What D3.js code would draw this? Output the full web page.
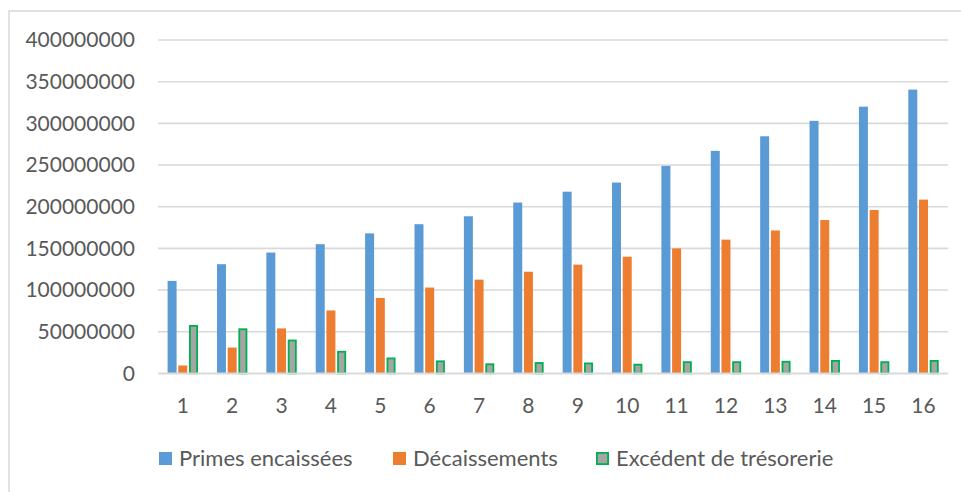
<!DOCTYPE html>
<html>
<head>
<meta charset="utf-8">
<script src="https://cdn.jsdelivr.net/npm/d3@7"></script>
<style>
  html, body { margin: 0; padding: 0; background: #fff; }
  svg { display: block; }
  text { font-family: Lato, "Open Sans", sans-serif; fill: #595959; }
</style>
</head>
<body>
<svg id="chart" width="961" height="492"></svg>
<script>
// Périodes 1 à 16
const categories = ["1","2","3","4","5","6","7","8","9","10","11","12","13","14","15","16"];
const seriesNames = ["Primes encaissées", "Décaissements", "Excédent de trésorerie"];

const primesEncaissees = [111000000, 131000000, 145000000, 155000000, 168000000, 179000000, 188500000, 205000000,
                          218000000, 229000000, 249000000, 267000000, 284500000, 303000000, 320000000, 340500000];
const decaissements    = [9500000, 31000000, 54000000, 75500000, 90500000, 103000000, 112500000, 122000000,
                          130500000, 140000000, 150000000, 160500000, 171500000, 184000000, 196000000, 208500000];
const excedentTresorerie = [57000000, 53000000, 39500000, 26000000, 18000000, 14500000, 11000000, 12500000,
                            12000000, 10500000, 13500000, 13500000, 14000000, 15000000, 13500000, 15000000];

const yTicks = [0, 50000000, 100000000, 150000000, 200000000, 250000000, 300000000, 350000000, 400000000];

const seriesValues = [primesEncaissees, decaissements, excedentTresorerie];
const fills   = ["#5B9BD5", "#ED7D31", "#A5A5A5"];
const strokes = [null, null, "#00B050"];

const svg = d3.select("#chart");

// Chart frame
svg.append("path")
  .attr("d", "M9,492 L9,11 L961,11")
  .attr("fill", "none")
  .attr("stroke", "#D9D9D9")
  .attr("stroke-width", 1.5);

const plot = { left: 158.1, right: 948.2, top: 40, bottom: 373.4 };

const x0 = d3.scaleBand().domain(categories).range([plot.left, plot.right]).padding(0);
const x1 = d3.scaleBand().domain(seriesNames).range([-15.2, 15.2]).paddingInner(0.16).paddingOuter(0);
const y  = d3.scaleLinear().domain([0, 400000000]).range([plot.bottom, plot.top]);

// Horizontal gridlines
svg.append("g")
  .selectAll("line")
  .data(yTicks.filter(t => t > 0))
  .join("line")
  .attr("x1", plot.left).attr("x2", plot.right)
  .attr("y1", d => y(d)).attr("y2", d => y(d))
  .attr("stroke", "#D9D9D9")
  .attr("stroke-width", 1.6);

// Y axis labels
const yAxis = d3.axisLeft(y).tickValues(yTicks).tickFormat(d3.format("d")).tickSize(0).tickPadding(0);
const gy = svg.append("g").attr("transform", `translate(135,0)`).call(yAxis);
gy.select(".domain").remove();
gy.selectAll("text")
  .attr("font-size", 21)
  .attr("fill", "#595959")
  .style("font-family", "Lato, sans-serif");

// Bars
const groups = svg.append("g")
  .selectAll("g")
  .data(seriesNames)
  .join("g");

groups.each(function(name, si) {
  const vals = seriesValues[si];
  const hasStroke = !!strokes[si];
  const w = x1.bandwidth();
  d3.select(this).selectAll("rect")
    .data(categories.map((c, i) => ({ c, v: vals[i] })))
    .join("rect")
    .attr("x", d => x0(d.c) + x0.bandwidth() / 2 + x1(name) + (hasStroke ? 0.9 : 0))
    .attr("y", d => y(d.v))
    .attr("width", hasStroke ? w - 1.8 : w)
    .attr("height", d => y(0) - y(d.v))
    .attr("fill", fills[si])
    .attr("stroke", hasStroke ? strokes[si] : null)
    .attr("stroke-width", hasStroke ? 1.8 : null);
});

// Category axis
svg.append("line")
  .attr("x1", plot.left).attr("x2", plot.right)
  .attr("y1", y(0)).attr("y2", y(0))
  .attr("stroke", "#D9D9D9")
  .attr("stroke-width", 2);

const xAxis = d3.axisBottom(x0).tickSize(0).tickPadding(0);
const gx = svg.append("g").attr("transform", `translate(0,${y(0)})`).call(xAxis);
gx.select(".domain").remove();
gx.selectAll("text")
  .attr("y", 0)
  .attr("dy", 0)
  .attr("transform", "translate(0,40)")
  .attr("font-size", 21)
  .attr("fill", "#595959")
  .style("font-family", "Lato, sans-serif");

// Legend
const legendX = [159, 393, 596];
const legend = svg.append("g")
  .selectAll("g")
  .data(seriesNames)
  .join("g")
  .attr("transform", (d, i) => `translate(${legendX[i]},452)`);

legend.append("rect")
  .attr("x", (d, i) => strokes[i] ? 0.9 : 0)
  .attr("y", (d, i) => strokes[i] ? 0.9 : 0)
  .attr("width", (d, i) => strokes[i] ? 11.2 : 13)
  .attr("height", (d, i) => strokes[i] ? 11.2 : 13)
  .attr("fill", (d, i) => fills[i])
  .attr("stroke", (d, i) => strokes[i])
  .attr("stroke-width", (d, i) => strokes[i] ? 1.8 : null);

legend.append("text")
  .attr("x", 20)
  .attr("y", 14)
  .attr("font-size", 22)
  .text(d => d);
</script>
</body>
</html>
